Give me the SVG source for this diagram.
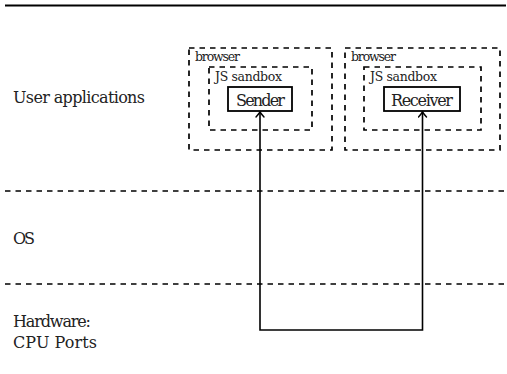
<svg xmlns="http://www.w3.org/2000/svg" width="507" height="374" viewBox="0 0 507 374">
<style>
.big{font-family:"DejaVu Serif","Liberation Serif",serif;font-size:16px;fill:#222}
.small{font-family:"DejaVu Serif","Liberation Serif",serif;font-size:12.5px;fill:#222}
.dash{fill:none;stroke:#000;stroke-width:1.7;stroke-dasharray:5.5 5}
.box{fill:#fff;stroke:#000;stroke-width:1.8}
.conn{fill:none;stroke:#000;stroke-width:1.6}
</style>
<defs>
<marker id="arr" viewBox="-6 -5 8 10" markerWidth="8" markerHeight="10" refX="0" refY="0" orient="auto-start-reverse" markerUnits="userSpaceOnUse">
<path d="M-5,-4 Q-1.5,-1 0,0 Q-1.5,1 -5,4" fill="none" stroke="#000" stroke-width="1.4" stroke-linecap="round"/>
</marker>
</defs>
<line x1="5" y1="5.5" x2="506" y2="5.5" stroke="#000" stroke-width="2"/>
<g id="layers">
<line class="dash" x1="5" y1="191" x2="507" y2="191"/>
<line class="dash" x1="5" y1="284" x2="507" y2="284"/>
<text class="big" x="13" y="103" textLength="132">User applications</text>
<text class="big" x="13" y="244" textLength="22">OS</text>
<text class="big" x="13" y="327" textLength="78">Hardware:</text>
<text class="big" x="13" y="348" textLength="84">CPU Ports</text>
</g>
<g id="browser1">
<rect class="dash" x="189" y="48" width="143" height="102"/>
<text class="small" x="195" y="61" textLength="45">browser</text>
</g>
<g id="sandbox1">
<rect class="dash" x="209" y="67" width="103" height="63"/>
<text class="small" x="215" y="81" textLength="67">JS sandbox</text>
</g>
<g id="sender">
<rect class="box" x="228" y="87" width="64" height="24"/>
<text class="big" x="260.5" y="106" text-anchor="middle" textLength="49">Sender</text>
</g>
<g id="browser2">
<rect class="dash" x="345" y="48" width="155" height="102"/>
<text class="small" x="351" y="61" textLength="45">browser</text>
</g>
<g id="sandbox2">
<rect class="dash" x="364" y="67" width="117" height="63"/>
<text class="small" x="370" y="81" textLength="67">JS sandbox</text>
</g>
<g id="receiver">
<rect class="box" x="384" y="87" width="76" height="24"/>
<text class="big" x="422" y="106" text-anchor="middle" textLength="62">Receiver</text>
</g>
<g id="connectors">
<path class="conn" d="M260,112 L260,330 L422.5,330 L422.5,112" marker-start="url(#arr)" marker-end="url(#arr)"/>
</g>
</svg>
